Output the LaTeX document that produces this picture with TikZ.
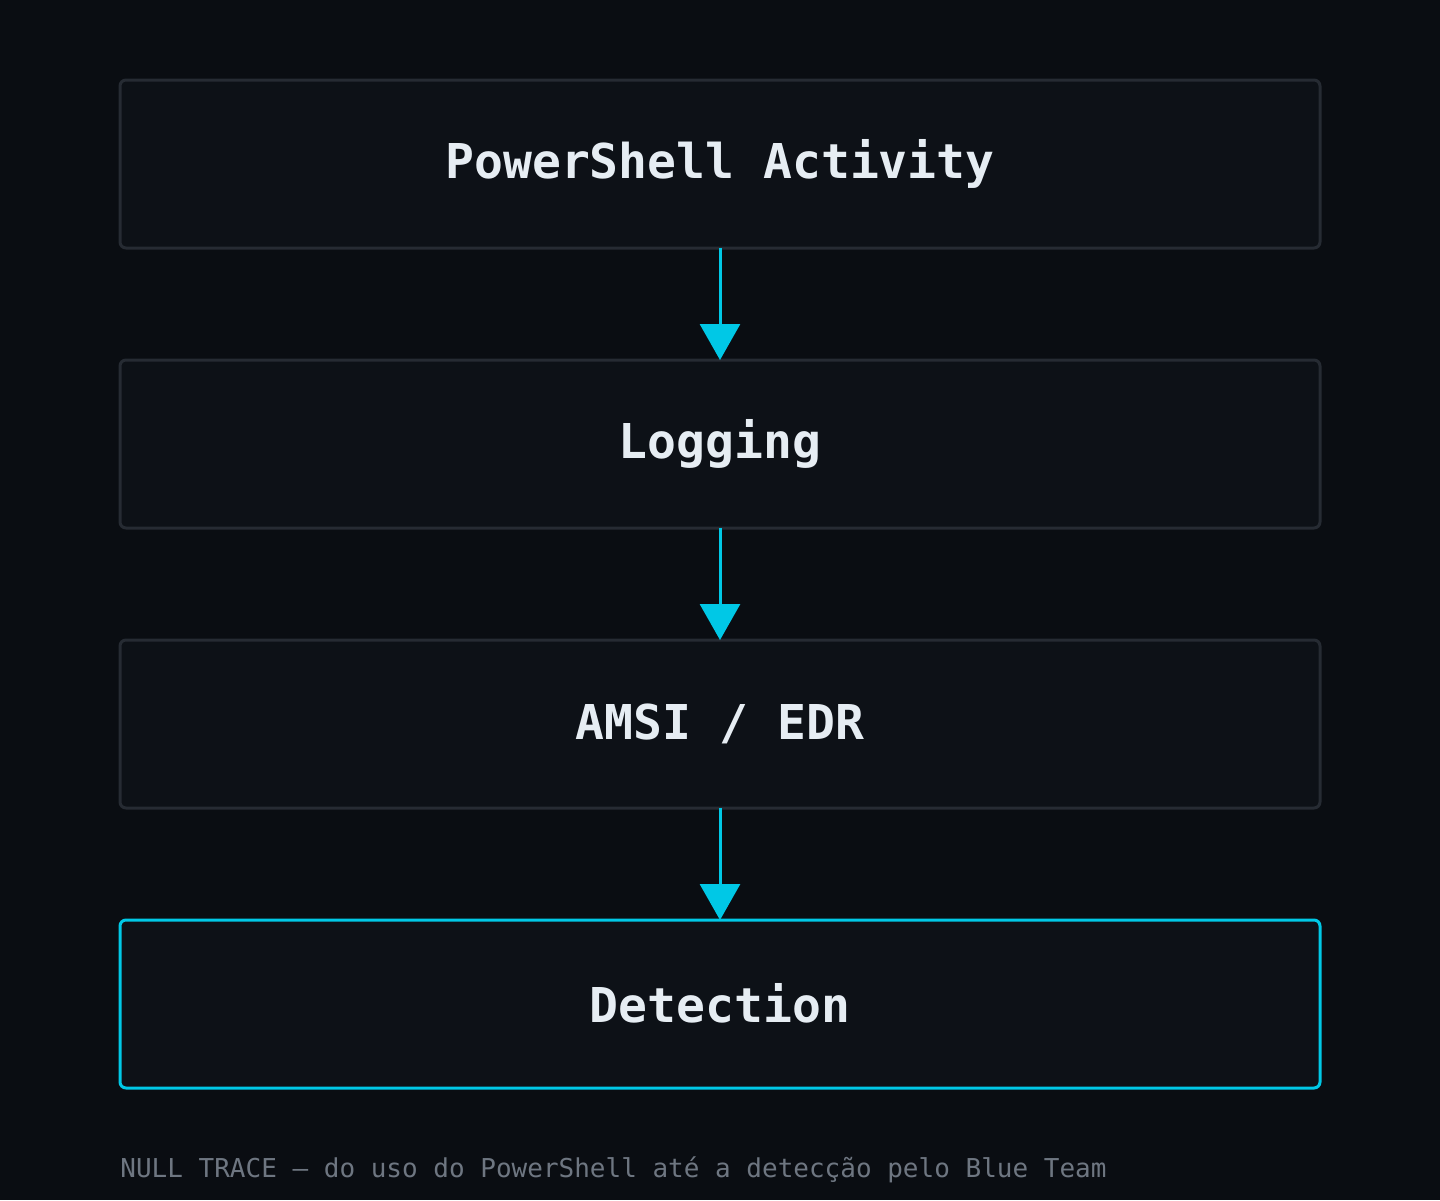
\documentclass[tikz,border=0pt]{standalone}
\usepackage{fontspec}
\setmainfont{DejaVu Sans Mono}
\usetikzlibrary{positioning,arrows.meta}
\definecolor{bgdark}{HTML}{0A0D12}
\definecolor{boxfill}{HTML}{0D1117}
\definecolor{boxline}{HTML}{262B33}
\definecolor{accent}{HTML}{00C8E6}
\definecolor{txtlight}{HTML}{E6EDF3}
\definecolor{txtdim}{HTML}{6E7681}

\begin{document}
\begin{tikzpicture}[
    stage/.style={draw=boxline, line width=1.5pt, fill=boxfill, rounded corners=3pt,
      minimum width=600pt, minimum height=84pt, outer sep=0pt, text=txtlight,
      font=\fontsize{24}{28}\selectfont\bfseries},
    final/.style={stage, draw=accent},
    flow/.style={draw=accent, line width=1.5pt, -{Triangle[width=20pt,length=18pt]}}
  ]
  \fill[bgdark] (0,0) rectangle (720pt,-600pt);
  \useasboundingbox (0,0) rectangle (720pt,-600pt);
  %
  \node[stage] (act) at (360pt,-82pt) {\raisebox{1pt}{PowerShell Activity}};
  \node[stage, below=56pt of act] (log) {\raisebox{1pt}{Logging}};
  \node[stage, below=56pt of log] (amsi) {\raisebox{1pt}{AMSI / EDR}};
  \node[final, below=56pt of amsi] (det) {\raisebox{1pt}{Detection}};
  %
  \draw[flow] (act) -- (log);
  \draw[flow] (log) -- (amsi);
  \draw[flow] (amsi) -- (det);
  %
  \node[anchor=base west, text=txtdim, font=\fontsize{13}{16}\selectfont, inner sep=0pt]
    (foot) at (60pt,-588.5pt) {NULL TRACE — do uso do PowerShell até a detecção pelo Blue Team};
\end{tikzpicture}
\end{document}
